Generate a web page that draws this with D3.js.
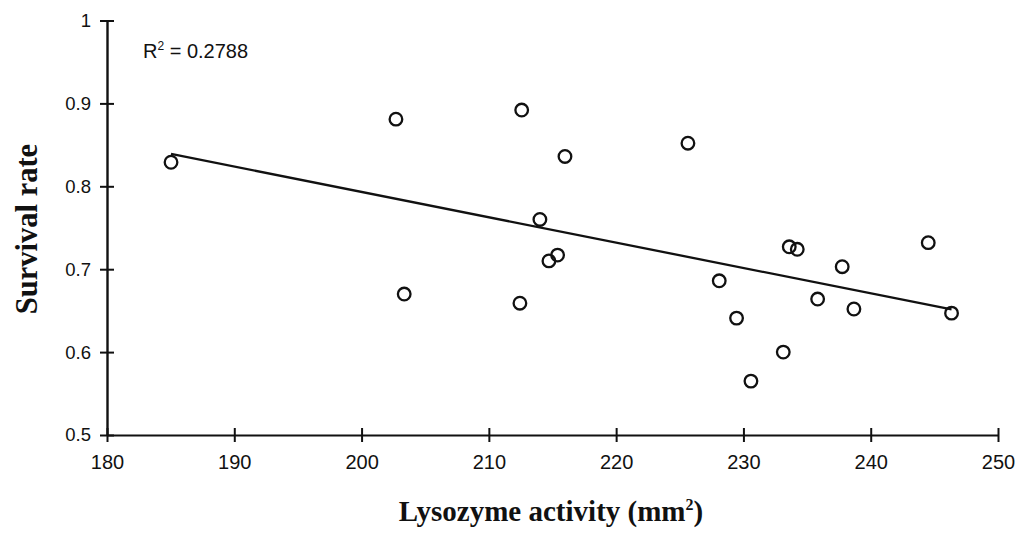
<!DOCTYPE html>
<html>
<head>
<meta charset="utf-8">
<script src="https://cdn.jsdelivr.net/npm/d3@7"></script>
<style>
  html, body { margin: 0; padding: 0; background: #fff; }
  svg { display: block; }
  .tick text { font-family: "Liberation Sans", Arial, sans-serif; fill: #111; }
  .title { font-family: "Liberation Serif", "Times New Roman", serif; font-weight: bold; fill: #111; }
</style>
</head>
<body>
<svg id="chart" width="1023" height="543"></svg>
<script>
// Lysozyme activity (mm²) and survival rate for each fish group
const lysozyme = [185.03, 202.7, 203.35, 212.44, 212.58, 214.01, 214.72, 215.4, 215.98, 225.64,
                  228.1, 229.46, 230.59, 233.13, 233.6, 234.23, 235.83, 237.76, 238.68, 244.52, 246.35];
const survival = [0.829, 0.881, 0.670, 0.659, 0.892, 0.760, 0.710, 0.717, 0.836, 0.852,
                  0.686, 0.641, 0.565, 0.600, 0.727, 0.724, 0.664, 0.703, 0.652, 0.732, 0.647];

const xTicks = [180, 190, 200, 210, 220, 230, 240, 250];
const yTicks = [0.5, 0.6, 0.7, 0.8, 0.9, 1];
const rSquaredLabel = "0.2788";

const svg = d3.select("#chart");

const x = d3.scaleLinear().domain([180, 250]).range([107, 998]);
const y = d3.scaleLinear().domain([0.5, 1]).range([435, 20.5]);

// Y axis with ticks crossing the axis line
const yAxis = svg.append("g")
  .attr("transform", `translate(${x(180)},0)`)
  .call(d3.axisLeft(y).tickValues(yTicks).tickSizeInner(7).tickSizeOuter(0).tickPadding(9)
    .tickFormat(d => d === 1 ? "1" : d3.format(".1f")(d)));
yAxis.select(".domain").attr("stroke", "#111").attr("stroke-width", 2.4);
yAxis.selectAll(".tick line").attr("x1", 7).attr("stroke", "#111").attr("stroke-width", 2);
yAxis.selectAll(".tick text").style("font-size", "18.5px");

// X axis with ticks crossing the axis line
const xAxis = svg.append("g")
  .attr("transform", `translate(0,${y(0.5)})`)
  .call(d3.axisBottom(x).tickValues(xTicks).tickSizeInner(7).tickSizeOuter(0).tickPadding(13)
    .tickFormat(d3.format("d")));
xAxis.select(".domain").attr("stroke", "#111").attr("stroke-width", 2.2);
xAxis.selectAll(".tick line").attr("y1", -7).attr("stroke", "#111").attr("stroke-width", 2);
xAxis.selectAll(".tick text").style("font-size", "20px");

// Least-squares trend line over the observed range
const mx = d3.mean(lysozyme), my = d3.mean(survival);
const sxy = d3.sum(lysozyme, (v, i) => (v - mx) * (survival[i] - my));
const sxx = d3.sum(lysozyme, v => (v - mx) * (v - mx));
const slope = sxy / sxx, intercept = my - slope * mx;
const xExt = d3.extent(lysozyme);
svg.append("path")
  .datum(xExt.map(v => [v, intercept + slope * v]))
  .attr("d", d3.line().x(d => x(d[0])).y(d => y(d[1])))
  .attr("fill", "none").attr("stroke", "#111").attr("stroke-width", 2.3);

// Observations as open circles
svg.append("g").selectAll("circle")
  .data(lysozyme.map((v, i) => [v, survival[i]]))
  .join("circle")
  .attr("cx", d => x(d[0])).attr("cy", d => y(d[1])).attr("r", 6.3)
  .attr("fill", "none").attr("stroke", "#111").attr("stroke-width", 2.3);

// Coefficient of determination
const r2 = svg.append("text")
  .attr("x", 143).attr("y", 57.5)
  .style("font-family", '"Liberation Sans", Arial, sans-serif')
  .style("font-size", "20px").attr("fill", "#111");
r2.append("tspan").text("R");
r2.append("tspan").attr("dy", -8).style("font-size", "12px").text("2");
r2.append("tspan").attr("dy", 8).text(" = " + rSquaredLabel);

// Axis titles
const xt = svg.append("text").attr("class", "title")
  .attr("x", 551).attr("y", 520.5).attr("text-anchor", "middle")
  .style("font-size", "29px");
xt.append("tspan").text("Lysozyme activity (mm");
xt.append("tspan").attr("dy", -11).style("font-size", "16px").text("2");
xt.append("tspan").attr("dy", 11).text(")");

svg.append("text").attr("class", "title")
  .attr("transform", "translate(37,229) rotate(-90)")
  .attr("text-anchor", "middle")
  .style("font-size", "30.5px")
  .text("Survival rate");
</script>
</body>
</html>
